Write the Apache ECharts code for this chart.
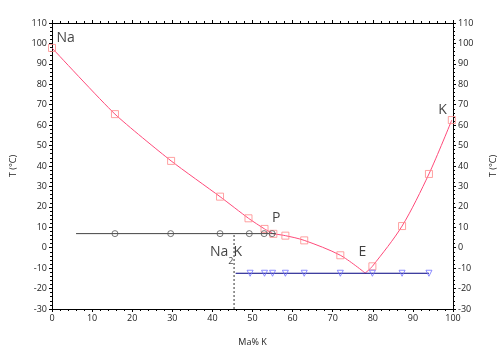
<!DOCTYPE html>
<html><head><meta charset="utf-8">
<script src="https://cdn.jsdelivr.net/npm/echarts@6/dist/echarts.min.js"></script>
<style>html,body{margin:0;padding:0;background:#fff}#c{width:500px;height:358px}</style>
</head><body><div id="c"></div>
<script>
// ---- data ----
const xMin = 0, xMax = 100, xStep = 10;
const yMin = -30, yMax = 110, yStep = 10;
const xTitle = 'Ma% K';
const yTitle = 'T (°C)';
// liquidus measured points (squares)
const liquidusPoints = [[0,97.8],[15.7,65.4],[29.7,42.5],[41.9,25.0],[49.0,14.4],[53.0,9.2],[55.2,6.8],[58.2,5.9],[62.9,3.6],[71.9,-3.7],[79.9,-9.1],[87.3,10.6],[94.0,36.1],[99.7,62.5]];
// liquidus curve branches
const liquidusNaToP = [[0,97.8],[15.7,65.4],[29.7,42.5],[41.9,25.0],[49.0,14.4],[53.0,9.2],[55.2,6.8]];
const liquidusPToE = [[55.2,6.8],[58.2,5.9],[62.9,3.6],[71.9,-3.7],[78.1,-12.4]];
const liquidusEToK = [[78.1,-12.4],[79.9,-9.1],[87.3,10.6],[94.0,36.1],[99.7,62.5]];
// peritectic horizontal (circles)
const peritecticLine = [[6.0,6.9],[55.8,6.9]];
const peritecticPoints = [[15.7,6.9],[29.6,6.9],[41.9,6.9],[49.2,6.9],[52.9,6.9],[54.9,6.9]];
// eutectic horizontal (triangles)
const eutecticLine = [[45.8,-12.5],[94.0,-12.5]];
const eutecticPoints = [[49.4,-12.5],[53.0,-12.5],[55.0,-12.5],[58.2,-12.5],[62.9,-12.5],[71.9,-12.5],[79.9,-12.5],[87.3,-12.5],[94.0,-12.5]];
// Na2K composition line
const na2kLine = [[45.4,-30],[45.4,7.0]];
// text labels
const labelNames = ['Na', 'K', 'P', 'E', '{a|Na}{b|2}{a|K}'];
const labelPos = [[3.4,102.7],[97.4,67.4],[55.9,14.4],[77.4,-2.1],[43.4,-1.9]];

// ---- chart ----
const chart = echarts.init(document.getElementById('c'), null, {renderer:'canvas'});
const fam = 'Open Sans';
function xAx(pos, show) {
  return {
    type:'value', min:xMin, max:xMax, interval:xStep, position:pos,
    axisLine:{show:true, onZero:false, lineStyle:{color:'#000', width:1}},
    axisTick:{show:true, inside:false, length:3, lineStyle:{color:'#000'}},
    minorTick:{show:true, splitNumber:5, length:2, lineStyle:{color:'#000'}},
    splitLine:{show:false},
    axisLabel:{show:show, fontSize:9, margin:5, color:'#222', fontFamily:fam},
    name: show ? xTitle : '', nameLocation:'middle', nameGap:29,
    nameTextStyle:{fontSize:9, color:'#222', fontFamily:fam}
  };
}
function yAx(pos) {
  return {
    type:'value', min:yMin, max:yMax, interval:yStep, position:pos,
    axisLine:{show:true, onZero:false, lineStyle:{color:'#000', width:1}},
    axisTick:{show:true, inside:false, length:3, lineStyle:{color:'#000'}},
    minorTick:{show:true, splitNumber:5, length:2, lineStyle:{color:'#000'}},
    splitLine:{show:false},
    axisLabel:{show:true, fontSize:9, margin:5, color:'#222', fontFamily:fam},
    name: yTitle, nameLocation:'middle', nameGap: pos==='left'?34:36, nameRotate:90,
    nameTextStyle:{fontSize:9, color:'#222', fontFamily:fam}
  };
}
const pink = '#ff4a7a', pinkMark = '#ff8a8a';
function lineS(data, color, smooth, type) {
  return {type:'line', data:data, showSymbol:false, symbol:'none', smooth:smooth, silent:true,
    lineStyle:{color:color, width:1, type:type||'solid'}, z:2, clip:false, animation:false};
}
const option = {
  animation:false,
  textStyle:{fontFamily:fam},
  grid:{left:52, right:47, top:23, bottom:49, containLabel:false, outerBoundsMode:'none'},
  xAxis:[xAx('bottom', true), xAx('top', false)],
  yAxis:[yAx('left'), yAx('right')],
  series:[
    lineS(liquidusNaToP, pink, 0.2),
    lineS(liquidusPToE, pink, 0.3),
    lineS(liquidusEToK, pink, 0.3),
    lineS(peritecticLine, '#444', false),
    lineS(eutecticLine, '#000080', false),
    lineS(na2kLine, '#333', false, [2,2]),
    {type:'scatter', data:liquidusPoints, symbol:'rect', symbolSize:7, z:4, clip:false,
      itemStyle:{color:'rgba(0,0,0,0)', borderColor:pinkMark, borderWidth:1}},
    {type:'scatter', data:peritecticPoints, symbol:'circle', symbolSize:6, z:4,
      itemStyle:{color:'rgba(0,0,0,0)', borderColor:'#555', borderWidth:1}},
    {type:'scatter', data:eutecticPoints, symbol:'triangle', symbolRotate:180, symbolSize:6, z:4,
      itemStyle:{color:'rgba(0,0,0,0)', borderColor:'#7070ff', borderWidth:1}},
    {type:'scatter', symbolSize:0, z:5, silent:true,
      data: labelNames.map((n,i)=>({value:labelPos[i], name:n})),
      label:{show:true, position:'inside', formatter:p=>p.name, color:'#111', fontSize:14, fontFamily:fam,
        rich:{a:{fontSize:14, lineHeight:28, verticalAlign:'middle', color:'#111', fontFamily:fam},
              b:{fontSize:9, lineHeight:12, verticalAlign:'bottom', color:'#111', fontFamily:fam}}}}
  ]
};
chart.setOption(option);
</script></body></html>
